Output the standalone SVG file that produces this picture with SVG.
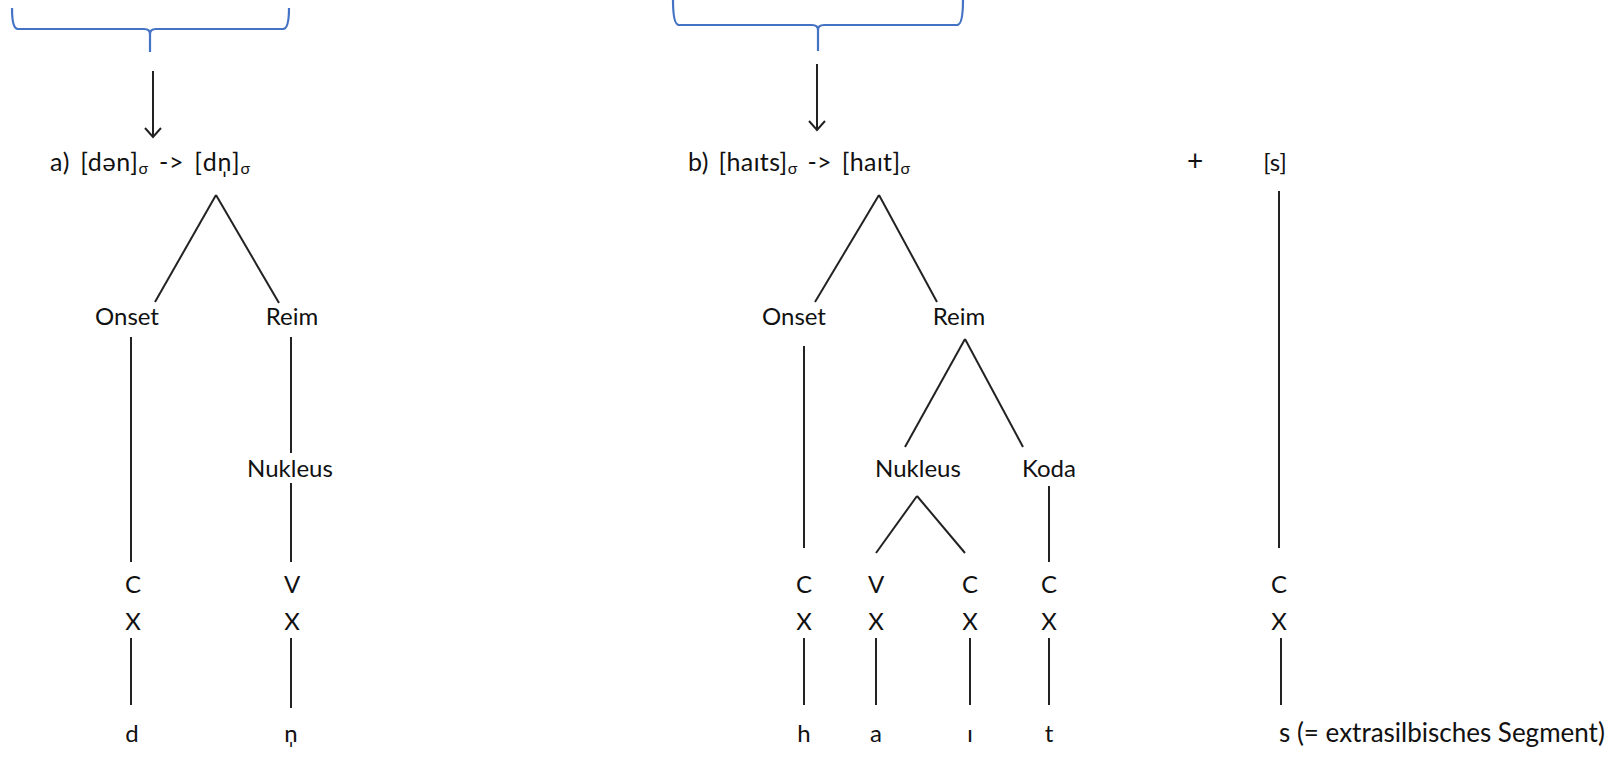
<svg xmlns="http://www.w3.org/2000/svg" width="1621" height="765" viewBox="0 0 1621 765">
<defs>
<style>
text{font-family:Lato,"Noto Sans","DejaVu Sans",sans-serif;font-size:24px;fill:#111;}
.m{text-anchor:middle;}
.t{font-size:25px;word-spacing:3px;}
.sub{font-size:16px;}
.ln{stroke:#222;stroke-width:2;fill:none;}
.br{stroke:#4472C4;stroke-width:2.2;fill:none;}
</style>
<marker id="ah" markerWidth="18" markerHeight="18" refX="15" refY="9" orient="auto" markerUnits="userSpaceOnUse">
<path d="M6,1 L15,9 L6,17" stroke="#222" stroke-width="2" fill="none"/>
</marker>
</defs>
<rect width="1621" height="765" fill="#fff"/>

<g id="braces">
<path class="br" d="M12,8 Q12,29 18,29 L144,29 Q150,29 150,34 L150,52 M150,34 Q150,29 156,29 L283,29 Q289,29 289,8"/>
<path class="br" d="M673,0 Q673,25 679,25 L812,25 Q818,25 818,30 L818,51 M818,30 Q818,25 824,25 L957,25 Q963,25 963,0"/>
</g>

<g id="connectors">
<line class="ln" x1="153" y1="71" x2="153" y2="137" marker-end="url(#ah)"/>
<line class="ln" x1="817" y1="64" x2="817" y2="130" marker-end="url(#ah)"/>
<!-- tree a -->
<line class="ln" x1="216" y1="195" x2="155" y2="302"/>
<line class="ln" x1="216" y1="195" x2="279" y2="303"/>
<line class="ln" x1="131" y1="337" x2="131" y2="562"/>
<line class="ln" x1="291" y1="337" x2="291" y2="453"/>
<line class="ln" x1="291" y1="483" x2="291" y2="562"/>
<line class="ln" x1="131" y1="638" x2="131" y2="705"/>
<line class="ln" x1="291" y1="638" x2="291" y2="708"/>
<!-- tree b -->
<line class="ln" x1="879" y1="195" x2="815" y2="302"/>
<line class="ln" x1="879" y1="195" x2="937" y2="302"/>
<line class="ln" x1="804" y1="346" x2="804" y2="548"/>
<line class="ln" x1="965" y1="339" x2="905" y2="447"/>
<line class="ln" x1="965" y1="339" x2="1023" y2="447"/>
<line class="ln" x1="917" y1="496" x2="876" y2="553"/>
<line class="ln" x1="917" y1="496" x2="965" y2="553"/>
<line class="ln" x1="1049" y1="486" x2="1049" y2="562"/>
<line class="ln" x1="1279" y1="191" x2="1279" y2="548"/>
<line class="ln" x1="804" y1="638" x2="804" y2="705"/>
<line class="ln" x1="876" y1="638" x2="876" y2="705"/>
<line class="ln" x1="970" y1="638" x2="970" y2="705"/>
<line class="ln" x1="1049" y1="638" x2="1049" y2="705"/>
<line class="ln" x1="1281" y1="638" x2="1281" y2="705"/>
</g>

<g id="title-a"><text class="t" x="50" y="171" textLength="200" lengthAdjust="spacing">a) [dən]<tspan class="sub" dy="3">σ</tspan><tspan dy="-3"> -&gt; [dn̩]</tspan><tspan class="sub" dy="3">σ</tspan></text></g>
<g id="title-b"><text class="t" x="688" y="171" textLength="222" lengthAdjust="spacing">b) [haɪts]<tspan class="sub" dy="3">σ</tspan><tspan dy="-3"> -&gt; [haɪt]</tspan><tspan class="sub" dy="3">σ</tspan></text></g>
<g id="plus"><text class="m" x="1195" y="171" style="font-size:28px">+</text></g>
<g id="s-bracket"><text class="m" x="1275" y="171">[s]</text></g>

<g id="a-onset"><text class="m" x="127" y="325">Onset</text></g>
<g id="a-reim"><text class="m" x="292" y="325">Reim</text></g>
<g id="a-nukleus"><text class="m" x="290" y="477">Nukleus</text></g>
<g id="a-c"><text class="m" x="133" y="593">C</text><text class="m" x="133" y="630">X</text></g>
<g id="a-v"><text class="m" x="292" y="593">V</text><text class="m" x="292" y="630">X</text></g>
<g id="a-d"><text class="m" x="132" y="742">d</text></g>
<g id="a-n"><text class="m" x="291" y="742">n̩</text></g>

<g id="b-onset"><text class="m" x="794" y="325">Onset</text></g>
<g id="b-reim"><text class="m" x="959" y="325">Reim</text></g>
<g id="b-nukleus"><text class="m" x="918" y="477">Nukleus</text></g>
<g id="b-koda"><text class="m" x="1049" y="477">Koda</text></g>
<g id="b-c1"><text class="m" x="804" y="593">C</text><text class="m" x="804" y="630">X</text></g>
<g id="b-v"><text class="m" x="876" y="593">V</text><text class="m" x="876" y="630">X</text></g>
<g id="b-c2"><text class="m" x="970" y="593">C</text><text class="m" x="970" y="630">X</text></g>
<g id="b-c3"><text class="m" x="1049" y="593">C</text><text class="m" x="1049" y="630">X</text></g>
<g id="b-c4"><text class="m" x="1279" y="593">C</text><text class="m" x="1279" y="630">X</text></g>
<g id="b-h"><text class="m" x="804" y="742">h</text></g>
<g id="b-a"><text class="m" x="876" y="742">a</text></g>
<g id="b-i"><text class="m" x="970" y="742">ɪ</text></g>
<g id="b-t"><text class="m" x="1049" y="742">t</text></g>
<g id="b-s"><text x="1279" y="742" style="font-size:26px">s (= extrasilbisches Segment)</text></g>
</svg>
